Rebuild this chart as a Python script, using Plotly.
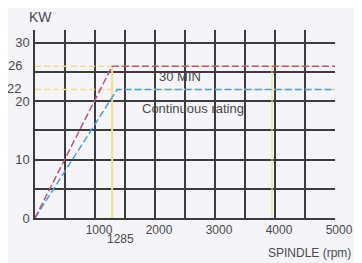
import plotly.graph_objects as go

# Data
rpm_30min = [0, 1285, 5000]
kw_30min = [0, 26, 26]
rpm_cont = [0, 1370, 5000]
kw_cont = [0, 22, 22]
ref_rpm_knee = [1285, 1285]
ref_rpm_4000 = [3950, 3950]
ref_kw_span = [0, 26]
ref_h_rpm = [0, 5000]
ref_h26 = [26, 26]
ref_h22 = [22, 22]

x_tickvals = list(range(0, 5001, 500))
x_ticktext = ["" if v % 1000 or v == 0 else str(v) for v in x_tickvals]
y_tickvals = list(range(0, 31, 5))
y_ticktext = [str(v) if v % 10 == 0 else "" for v in y_tickvals]

yellow = "#eee08c"
red = "#b8527f"
blue = "#4c9fd6"
grid = "#3c3c3c"
txt = "#4a4a4a"
font = "Liberation Sans"

fig = go.Figure()
# yellow reference lines
fig.add_trace(go.Scatter(x=ref_h_rpm, y=ref_h26, mode="lines",
                         line=dict(color=yellow, width=1.5, dash="6px,3px"), hoverinfo="skip"))
fig.add_trace(go.Scatter(x=ref_h_rpm, y=ref_h22, mode="lines",
                         line=dict(color=yellow, width=1.5, dash="6px,3px"), hoverinfo="skip"))
fig.add_trace(go.Scatter(x=ref_rpm_knee, y=ref_kw_span, mode="lines",
                         line=dict(color=yellow, width=2), hoverinfo="skip"))
fig.add_trace(go.Scatter(x=ref_rpm_4000, y=ref_kw_span, mode="lines",
                         line=dict(color=yellow, width=1.5), opacity=0.7, hoverinfo="skip"))
# rating curves
fig.add_trace(go.Scatter(x=rpm_cont, y=kw_cont, mode="lines",
                         line=dict(color=blue, width=1.5, dash="7px,3px")))
fig.add_trace(go.Scatter(x=rpm_30min, y=kw_30min, mode="lines",
                         line=dict(color=red, width=1.5, dash="7px,3px")))

ann_font = dict(family=font, size=13, color=txt)
fig.add_annotation(x=2417, y=24.2, text="30 MIN", showarrow=False, font=ann_font)
fig.add_annotation(x=2633, y=18.7, text="Continuous rating", showarrow=False, font=ann_font)
fig.add_annotation(x=1285, y=0, text="1285", showarrow=False,
                   font=dict(family=font, size=12, color=txt),
                   yshift=-21, xshift=8)
fig.add_annotation(x=0, y=26, text="26", showarrow=False, font=ann_font,
                   xanchor="right", xshift=-11, yshift=1)
fig.add_annotation(x=0, y=22, text="22", showarrow=False, font=ann_font,
                   xanchor="right", xshift=-12, yshift=1)
fig.add_annotation(x=0.017, y=1.069, xref="paper", yref="paper", text="KW",
                   xanchor="center", yanchor="middle",
                   showarrow=False, font=dict(family=font, size=14, color=txt))
fig.add_annotation(x=0.915, y=-0.186, xref="paper", yref="paper", text="SPINDLE (rpm)",
                   xanchor="center", yanchor="middle",
                   showarrow=False, font=dict(family=font, size=12, color=txt))

# the page body adds an 8px margin, so the figure is sized/margined to compensate
fig.update_layout(
    width=354, height=255,
    margin=dict(l=27, r=27, t=22, b=45, autoexpand=False),
    paper_bgcolor="#f5f4f8", plot_bgcolor="#f5f4f8",
    showlegend=False,
    font=dict(family=font, size=13, color=txt),
)
fig.update_xaxes(range=[0, 5000], tickvals=x_tickvals, ticktext=x_ticktext,
                 tickfont=dict(size=12),
                 showgrid=True, gridcolor=grid, gridwidth=1.5, automargin=False,
                 zeroline=False, showline=True, linecolor=grid, linewidth=1.5,
                 ticklabelshift=4, ticklabelstandoff=0)
fig.update_yaxes(range=[0, 32.2], tickvals=y_tickvals, ticktext=y_ticktext,
                 showgrid=True, gridcolor=grid, gridwidth=1.5, automargin=False,
                 zeroline=False, showline=True, linecolor=grid, linewidth=1.5,
                 ticklabelstandoff=1)

fig.write_html("out.html")
